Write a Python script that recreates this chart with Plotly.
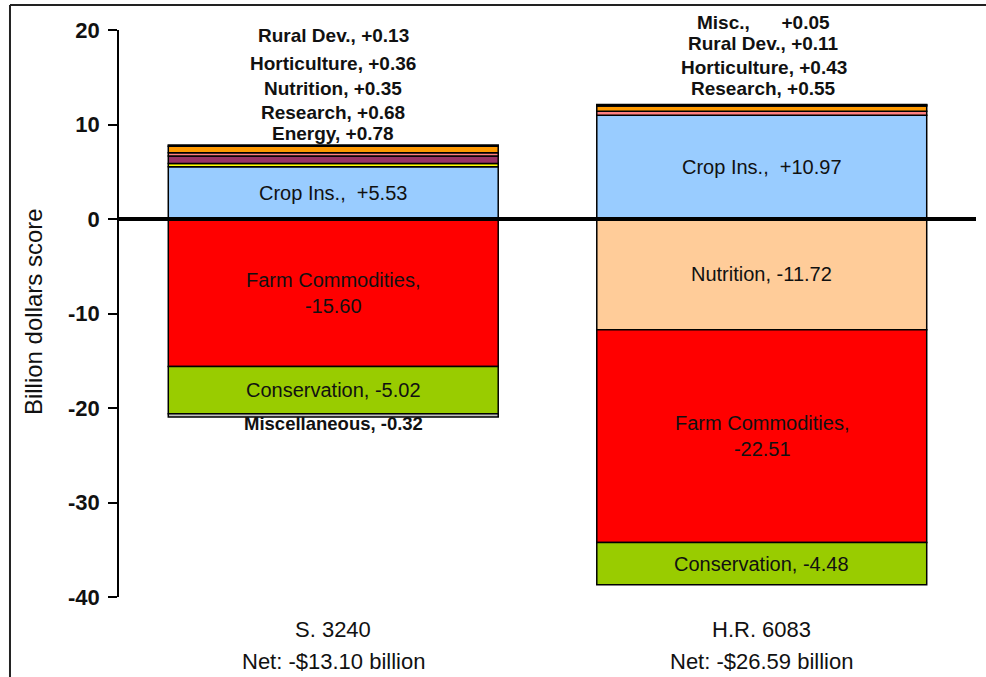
import plotly.graph_objects as go

# ---------------- data ----------------
bills = ["S. 3240", "H.R. 6083"]
net_labels = ["Net: -$13.10 billion", "Net: -$26.59 billion"]

# stacking order (positives stack upward in this order, negatives downward)
programs = ["Crop Ins.", "Nutrition", "Farm Commodities", "Conservation",
            "Energy", "Horticulture", "Research", "Rural Dev.", "Miscellaneous"]
s3240 = [5.53, 0.35, -15.60, -5.02, 0.78, 0.36, 0.68, 0.13, -0.32]
hr6083 = [10.97, -11.72, -22.51, -4.48, None, 0.43, 0.55, 0.11, 0.05]

y_ticks = [20, 10, 0, -10, -20, -30, -40]
y_ticktext = ["20", "10", "0", "-10", "-20", "-30", "-40"]

# labels shown above each bar (bottom to top)
top_order = [["Energy", "Research", "Nutrition", "Horticulture", "Rural Dev."],
             ["Research", "Horticulture", "Rural Dev.", "Miscellaneous"]]
short_names = {1: {"Miscellaneous": "Misc.,\u00a0\u00a0\u00a0\u00a0\u00a0"}}

# ---------------- style ----------------
colors = {
    "Crop Ins.": ["#99CCFF", "#99CCFF"],
    "Nutrition": ["#FFFF00", "#FFCC99"],
    "Farm Commodities": ["#FF0000", "#FF0000"],
    "Conservation": ["#99CC00", "#99CC00"],
    "Energy": ["#993366", "#993366"],
    "Horticulture": ["#FF8080", "#FF8080"],
    "Research": ["#FF9900", "#FF9900"],
    "Rural Dev.": ["#FFCC00", "#FFCC00"],
    "Miscellaneous": ["#C0C0C0", "#C0C0C0"],
}
FONT = "Arial, Liberation Sans, sans-serif"
BAR_W = 0.77
top_shifts = [[12, 33, 57, 82, 110], [16, 37, 61, 82]]  # px above bar top

fig = go.Figure()
series = [s3240, hr6083]
for i, p in enumerate(programs):
    fig.add_bar(
        x=[0, 1], y=[s3240[i], hr6083[i]], name=p, width=BAR_W,
        marker=dict(color=colors[p], line=dict(color="black", width=1.5)),
        hoverinfo="skip", showlegend=False,
    )

annotations = []
for b, vals in enumerate(series):
    pos, neg = 0.0, 0.0
    bounds = {}
    for p, v in zip(programs, vals):
        if v is None:
            continue
        if v >= 0:
            bounds[p] = (pos, pos + v)
            pos += v
        else:
            bounds[p] = (neg + v, neg)
            neg += v
    # inside labels for big segments
    for p, v in zip(programs, vals):
        if v is None or abs(v) < 3:
            continue
        lo, hi = bounds[p]
        if p == "Crop Ins.":
            txt = f"{p},\u00a0\u00a0{v:+.2f}"
        elif p == "Farm Commodities":
            txt = f"{p},<br>{v:+.2f}"
        else:
            txt = f"{p}, {v:+.2f}"
        annotations.append(dict(
            x=b, y=(lo + hi) / 2, xref="x", yref="y", text=txt, showarrow=False,
            font=dict(family=FONT, size=20, color="#111"),
            xanchor="center", yanchor="middle"))
    # labels above bar
    for k, p in enumerate(top_order[b]):
        v = vals[programs.index(p)]
        nm = short_names.get(b, {}).get(p, p + ",")
        txt = f"{nm} {v:+.2f}"
        annotations.append(dict(
            x=b, y=pos, xref="x", yref="y", text=txt, showarrow=False,
            font=dict(family=FONT, size=19, color="#111", weight="bold"),
            xanchor="center", yanchor="middle", yshift=top_shifts[b][k],
            xshift=2 if b == 1 else 0))
    # small negative label below bar
    for p, v in zip(programs, vals):
        if v is not None and -3 < v < 0:
            annotations.append(dict(
                x=b, y=neg, xref="x", yref="y", text=f"{p}, {v:+.2f}",
                showarrow=False,
                font=dict(family=FONT, size=18.5, color="#111", weight="bold"),
                xanchor="center", yanchor="middle", yshift=-7))

# category and net labels
for b in range(2):
    annotations.append(dict(x=b, y=-0.058, xref="x", yref="paper", text=bills[b],
                            showarrow=False, font=dict(family=FONT, size=22, color="#111"),
                            xanchor="center", yanchor="middle"))
    annotations.append(dict(x=b, y=-0.1146, xref="x", yref="paper", text=net_labels[b],
                            showarrow=False, font=dict(family=FONT, size=22, color="#111"),
                            xanchor="center", yanchor="middle"))
# y axis title
annotations.append(dict(x=-0.1, y=0.503, xref="paper", yref="paper",
                        text="Billion dollars score", textangle=-90, showarrow=False,
                        font=dict(family=FONT, size=24, color="#111"),
                        xanchor="center", yanchor="middle"))

shapes = [
    dict(type="line", xref="paper", yref="y", x0=0, x1=1, y0=0, y1=0,
         line=dict(color="black", width=4), layer="above"),
    dict(type="line", xref="paper", yref="paper", x0=-0.1272, x1=-0.1272,
         y0=-0.3, y1=1.0441, line=dict(color="#222", width=2)),
    dict(type="line", xref="paper", yref="paper", x0=-0.1272, x1=1.05,
         y0=1.0441, y1=1.0441, line=dict(color="#222", width=2)),
]

fig.update_layout(
    width=986, height=677, barmode="relative",
    margin=dict(l=119, r=10, t=30, b=80),
    plot_bgcolor="white", paper_bgcolor="white",
    annotations=annotations, shapes=shapes,
    xaxis=dict(range=[-0.5, 1.5], showticklabels=False, showgrid=False,
               zeroline=False, showline=False, ticks=""),
    yaxis=dict(range=[-40, 20], tickvals=y_ticks, ticktext=y_ticktext,
               showgrid=False, zeroline=False, showline=True, linecolor="black",
               linewidth=1.5, ticks="outside", ticklen=9, tickcolor="black",
               tickwidth=1.5, ticklabelstandoff=4,
               tickfont=dict(family=FONT, size=22, color="#111", weight="bold")),
)

fig.write_html("out.html")
